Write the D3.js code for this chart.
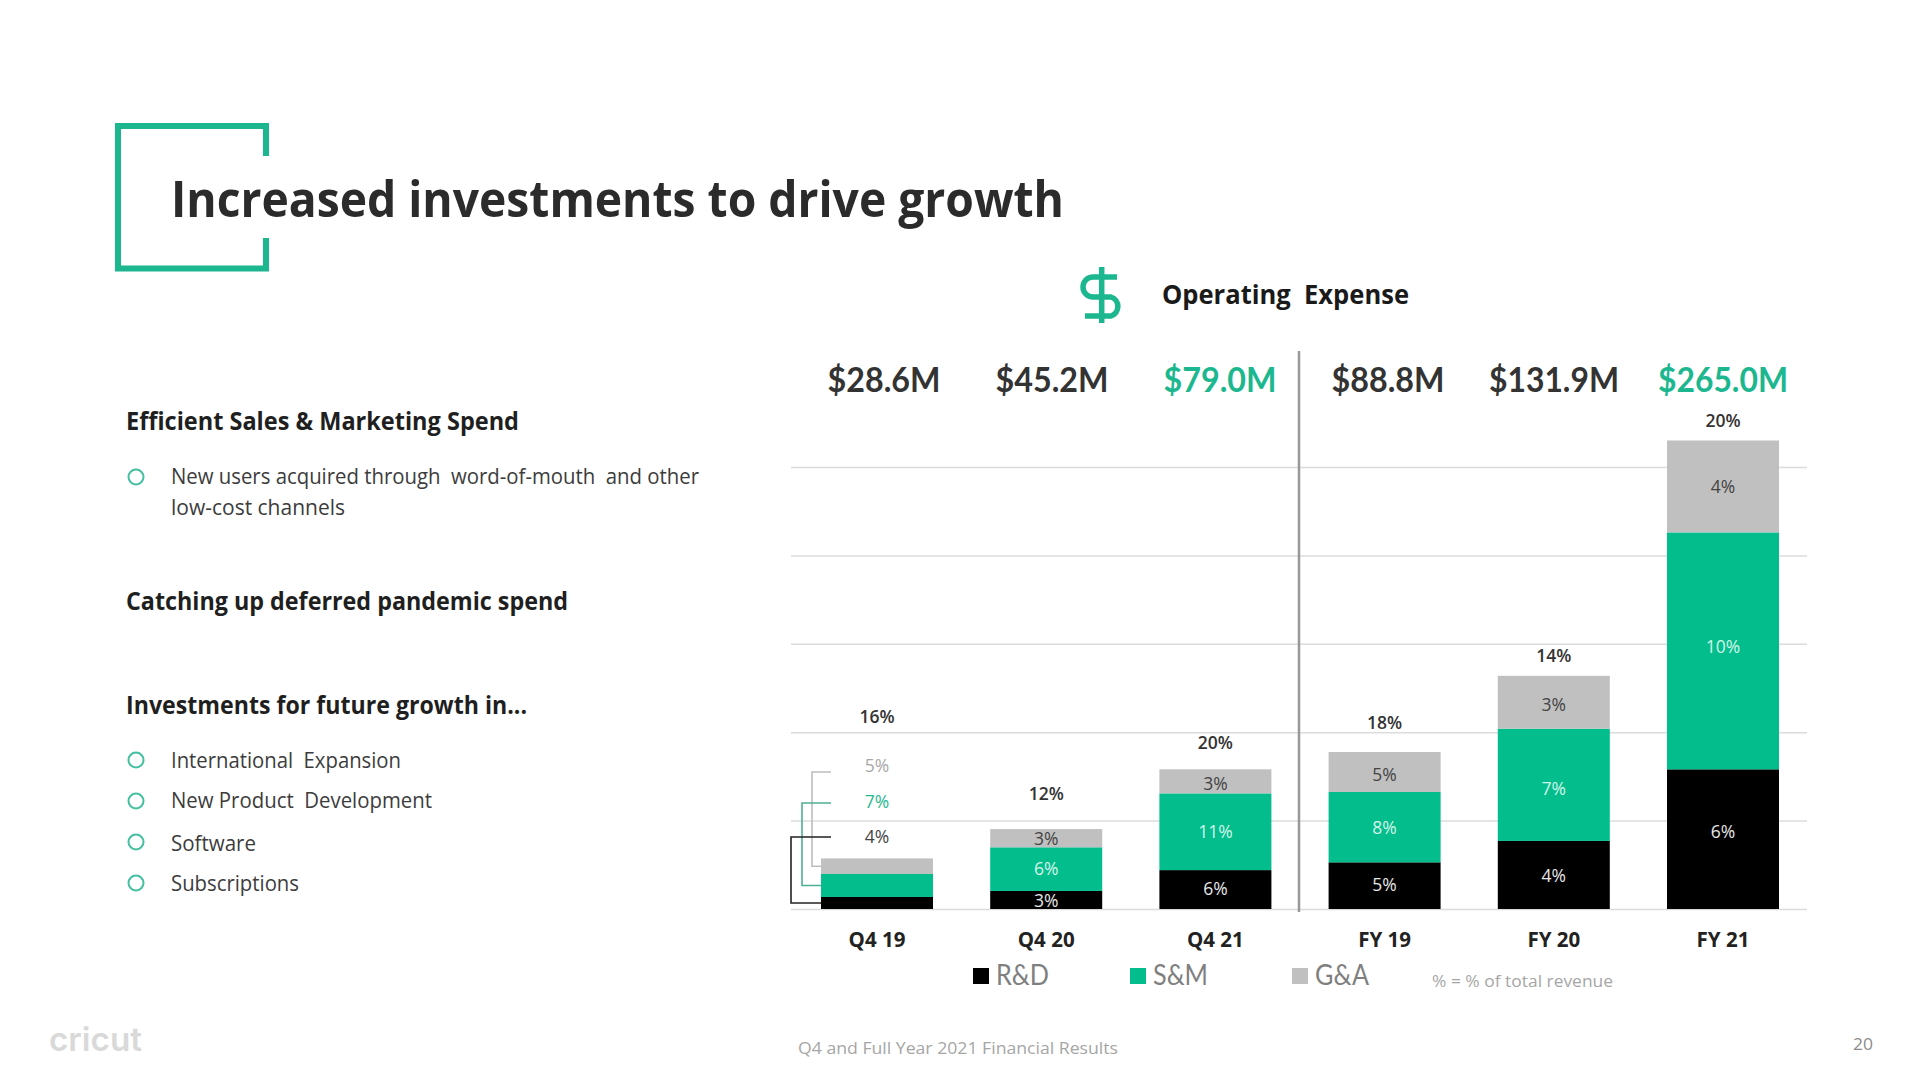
<!DOCTYPE html>
<html><head><meta charset="utf-8">
<script src="https://cdn.jsdelivr.net/npm/d3@7"></script>
<style>html,body{margin:0;padding:0;background:#fff}svg{display:block}</style>
</head><body><svg id="c" width="1920" height="1080"></svg>
<script>
const categories=["Q4 19","Q4 20","Q4 21","FY 19","FY 20","FY 21"];
const rd=[6.8,10.2,22,26.4,38.5,79];
const sm=[13,24.7,43.4,39.8,63.5,134];
const ga=[8.8,10.3,13.6,22.6,29.9,52];
const totalLabels=["$28.6M","$45.2M","$79.0M","$88.8M","$131.9M","$265.0M"];
const totalPct=["16%","12%","20%","18%","14%","20%"];
const rdPct=["4%","3%","6%","5%","4%","6%"];
const smPct=["7%","6%","11%","8%","7%","10%"];
const gaPct=["5%","3%","3%","5%","3%","4%"];
const gridTicks=[0,50,100,150,200,250];
const seriesNames=["R&D","S&M","G&A"];
const BLACK="#000",GREEN="#04bd8d",GRAY="#c0c0c0",TEAL="#1cb78f";

const svg=d3.select("#c");
const x=d3.scaleBand().domain(categories).range([821,1779]).paddingInner(.338).paddingOuter(0);
const y=d3.scaleLinear().domain([0,250]).range([909,467]);
const color=d3.scaleOrdinal().domain(seriesNames).range([BLACK,GREEN,GRAY]);

function T(s,px,py,o){o=o||{};const t=svg.append("text").attr("x",px).attr("y",py).text(s)
 .attr("font-family",o.f||"'Open Sans'").attr("font-size",o.s||20).attr("font-weight",o.w||400)
 .attr("fill",o.c||"#333").attr("text-anchor",o.a||"start").style("white-space","pre");
 if(o.l)t.attr("textLength",o.l).attr("lengthAdjust","spacingAndGlyphs");return t;}

// bracket
svg.append("path").attr("fill","none").attr("stroke",TEAL).attr("stroke-width",6)
 .attr("d","M266,156V126H118V268.5H266V238");
T("Increased investments to drive growth",171,217,{s:50,w:700,c:"#2b2b2b",l:893});

// left panel
const H={f:"'Open Sans'",s:25,w:700,c:"#1f1f1f"};
T("Efficient Sales & Marketing Spend",126,430,{...H,l:393});
T("Catching up deferred pandemic spend",126,610,{...H,l:442});
T("Investments for future growth in...",126,714,{...H,l:401});
const B={s:22,c:"#3c3c3c"};
[["New users acquired through  word-of-mouth  and other",171,484,528,477],
 ["low-cost channels",171,515,174,null],
 ["International  Expansion",171,768,230,760],
 ["New Product  Development",171,808,261,801],
 ["Software",171,851,85,842],
 ["Subscriptions",171,891,128,883]].forEach(r=>{
  T(r[0],r[1],r[2],{...B,l:r[3]});
  if(r[4]!==null)svg.append("circle").attr("cx",136).attr("cy",r[4]).attr("r",7.5)
    .attr("fill","none").attr("stroke","#45bfa0").attr("stroke-width",2);
});

// header
svg.append("path").attr("fill","none").attr("stroke",TEAL).attr("stroke-width",5.5)
 .attr("d","M1117,277H1093A10,10 0 0 0 1093,297H1111A10,10 0 0 1 1111,316H1085M1101.7,267V323");
T("Operating  Expense",1162,304,{s:27,w:700,c:"#1a1a1a",l:247});

// grid
svg.append("g").attr("transform","translate(1807,0)")
 .call(d3.axisLeft(y).tickValues(gridTicks).tickSize(1016).tickFormat(""))
 .call(g=>g.select(".domain").remove())
 .call(g=>g.selectAll("line").attr("stroke","#dcdcdc").attr("stroke-width",1.5));

// bars
const rows=categories.map((c,i)=>({c,"R&D":rd[i],"S&M":sm[i],"G&A":ga[i]}));
const stacked=d3.stack().keys(seriesNames)(rows);
svg.append("g").selectAll("g").data(stacked).join("g").attr("fill",d=>color(d.key))
 .selectAll("rect").data(d=>d).join("rect")
 .attr("x",d=>x(d.data.c)).attr("width",x.bandwidth())
 .attr("y",d=>y(d[1])).attr("height",d=>y(d[0])-y(d[1]));

// divider
svg.append("line").attr("x1",1299).attr("x2",1299).attr("y1",351).attr("y2",912)
 .attr("stroke","#989898").attr("stroke-width",2.5);

// category axis
svg.append("g").attr("transform","translate(0,947)")
 .call(d3.axisBottom(x).tickSize(0).tickPadding(0))
 .call(g=>g.select(".domain").remove())
 .call(g=>g.selectAll("text").attr("dy",0).attr("y",0).attr("font-family","'Open Sans'")
   .attr("font-size",20.5).attr("font-weight",700).attr("fill","#222"));

// totals
const totalX=[884,1052,1220,1388,1554,1723];
const totalW=[113,113,113,113,130,130];
totalLabels.forEach((s,i)=>T(s,totalX[i],392,{f:"Lato",s:35,w:700,a:"middle",c:i===2||i===5?"#1cb78f":"#333",l:totalW[i]}));

// segment labels
const cx=c=>x(c)+x.bandwidth()/2;
const topPctY=[723,800,749,729,662,427];
const rdNudge=[0,1,-1,-1,1,-7];
const smNudge=[0,0,0,1,4,-4];
const gaNudge=[0,1,3,3,3,1];
const P=17.5;
categories.forEach((c,i)=>{
 T(totalPct[i],cx(c),topPctY[i],{s:P,w:600,a:"middle",c:"#333"});
 const m=k=>{const d=stacked[k][i];return y((d[0]+d[1])/2)+6;};
 if(i===0){
  T(gaPct[i],cx(c),772,{s:P,a:"middle",c:"#a8a8a8"});
  T(smPct[i],cx(c),808,{s:P,a:"middle",c:"#25b98f"});
  T(rdPct[i],cx(c),843,{s:P,a:"middle",c:"#444"});
 }else{
  T(rdPct[i],cx(c),m(0)+rdNudge[i],{s:P,a:"middle",c:"#e6e6e6"});
  T(smPct[i],cx(c),m(1)+smNudge[i],{s:P,a:"middle",c:"#d2f5ea"});
  T(gaPct[i],cx(c),m(2)+gaNudge[i],{s:P,a:"middle",c:"#444"});
 }
});

// leader lines for Q4 19
const x0=x(categories[0]);
const leaders=[{k:2,ly:772,lx:812,c:"#bdbdbd"},{k:1,ly:803,lx:802,c:"#4fae96"},{k:0,ly:837,lx:791,c:"#222"}];
leaders.forEach(l=>{const d=stacked[l.k][0];const ey=y((d[0]+d[1])/2);
 svg.append("path").attr("fill","none").attr("stroke",l.c).attr("stroke-width",1.6)
  .attr("d",d3.line()([[831,l.ly],[l.lx,l.ly],[l.lx,ey],[x0,ey]]));});

// legend
const legendX=[973,1130,1292];
const legendW=[53,55,54];
seriesNames.forEach((n,i)=>{
 svg.append("rect").attr("x",legendX[i]).attr("y",968).attr("width",16).attr("height",16).attr("fill",color(n));
 T(n,legendX[i]+23,985,{f:"Lato",s:29,c:"#7f7f7f",l:legendW[i]});
});
T("% = % of total revenue",1432,987,{s:17,c:"#a6a6a6",l:181});
T("Q4 and Full Year 2021 Financial Results",798,1054,{s:17,c:"#a6a6a6",l:320});
T("20",1853,1050,{s:17,c:"#8c8c8c",l:20});
T("cricut",49,1051,{f:"Inter",s:33,w:600,c:"#d9d9d9",l:93});
</script></body></html>
